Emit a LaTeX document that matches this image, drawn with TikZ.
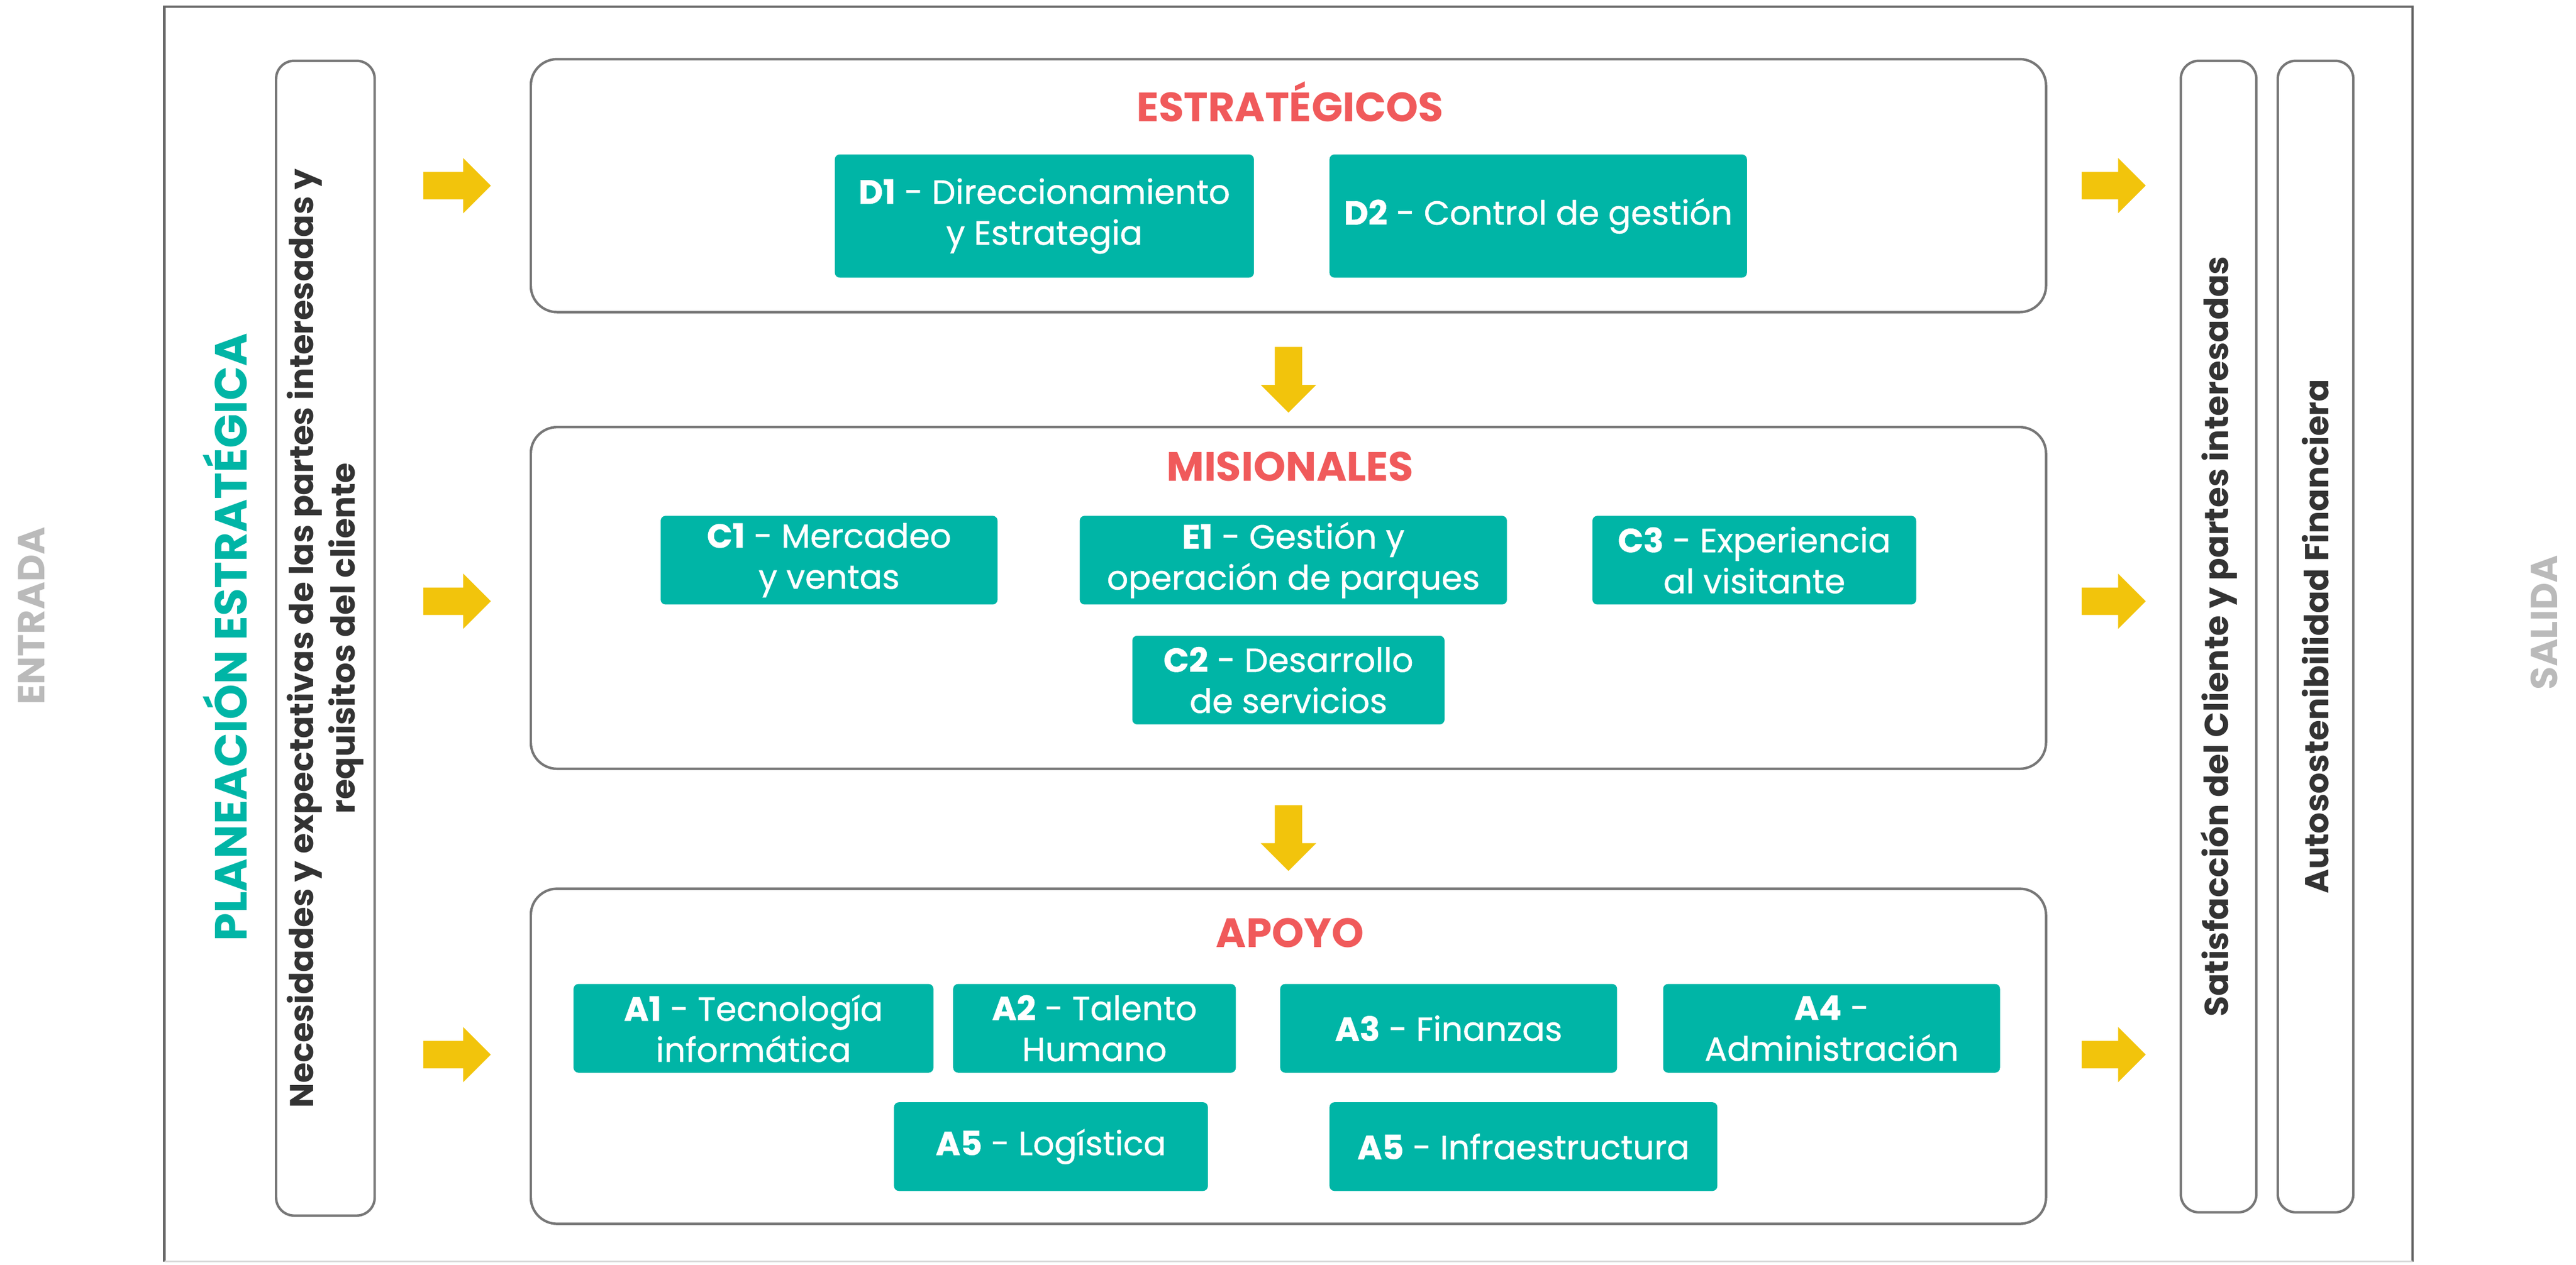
\documentclass[tikz,border=0pt]{standalone}
\usepackage{fontspec}
\setmainfont{Poppins}
\newfontfamily\poppinsmedio[FakeBold=0.7]{Poppins}
\usepackage{tikz}
\usetikzlibrary{shapes.arrows}

\definecolor{verdeazul}{HTML}{00B5A6}
\definecolor{coral}{HTML}{F05A5B}
\definecolor{amarillo}{HTML}{F2C40C}
\definecolor{gristexto}{HTML}{333333}
\definecolor{grisborde}{HTML}{777777}

\tikzset{
	procbox/.style={draw=grisborde, line width=0.3mm, rounded corners=0.32cm},
	sidebox/.style={draw=grisborde, line width=0.3mm, rounded corners=0.22cm, rotate=90, inner sep=0pt, align=center, text=gristexto, font=\fontsize{11.4}{14.5}\selectfont\bfseries},
	tealbox/.style={fill=verdeazul, rounded corners=0.06cm, text=white, align=center, inner sep=0pt, font=\fontsize{11.6}{14.2}\selectfont\poppinsmedio},
	titulo/.style={text=coral, font=\fontsize{14.2}{16}\selectfont\bfseries},
	flechader/.style={single arrow, fill=amarillo, inner xsep=0pt, inner ysep=0.16cm, minimum height=0.82cm, single arrow head extend=0.17cm},
	flechaabajo/.style={single arrow, fill=amarillo, shape border rotate=270, inner xsep=0.16cm, inner ysep=0pt, minimum height=0.8cm, single arrow head extend=0.17cm},
	lado/.style={rotate=90, text=black!27, font=\fontsize{13}{15}\selectfont\bfseries}
}

\begin{document}
\begin{tikzpicture}
			%%%%% START %%%%%
			\useasboundingbox (0, 0) rectangle (31.35, -15.40);
			
			\draw[line width=0.3mm, color=black!60] (2.0, -15.36) -- (2.0, -0.08) -- (29.36, -0.08) -- (29.36, -15.36);
			\draw[line width=0.2mm, color=black!15] (2.0, -15.36) -- (29.36, -15.36);
			
			\node[lado] (entrada) at (0.38, -7.5) {ENTRADA};
			\node[lado] (salida) at (30.96, -7.58) {SALIDA};
			
			\node[rotate=90, text=verdeazul, font=\fontsize{15.6}{18}\selectfont\bfseries] (planeacion) at (2.74, -7.76) {PLANEACIÓN ESTRATÉGICA};
			
			\node[sidebox, minimum width=14.06cm, minimum height=1.2cm] (entradas) at (3.96, -7.77) {Necesidades y expectativas de las partes interesadas y\\requisitos del cliente};
			
			\node[sidebox, font=\fontsize{11.5}{14}\selectfont\bfseries, minimum width=14.02cm, minimum height=0.92cm] (satisfaccion) at (27.00, -7.75) {Satisfacción del Cliente y partes interesadas};
			\node[sidebox, font=\fontsize{11.5}{14}\selectfont\bfseries, minimum width=14.02cm, minimum height=0.92cm] (autosostenibilidad) at (28.18, -7.75) {Autosostenibilidad Financiera};
			
			% estrategicos
			\node[procbox, minimum width=18.44cm, minimum height=3.08cm] (estrategicos) at (15.68, -2.26) {};
			\node[titulo] (tEstrategicos) at (15.70, -1.24) {ESTRATÉGICOS};
			\node[tealbox, minimum width=5.10cm, minimum height=1.50cm] (d1) at (12.71, -2.63) {\textbf{D1} - Direccionamiento\\y Estrategia};
			\node[tealbox, minimum width=5.08cm, minimum height=1.50cm] (d2) at (18.72, -2.63) {\textbf{D2} - Control de gestión};
			
			% misionales
			\node[procbox, minimum width=18.44cm, minimum height=4.16cm] (misionales) at (15.68, -7.28) {};
			\node[titulo] (tMisionales) at (15.70, -5.68) {MISIONALES};
			\node[tealbox, minimum width=4.10cm, minimum height=1.08cm] (c1) at (10.09, -6.82) {\textbf{C1} - Mercadeo\\y ventas};
			\node[tealbox, minimum width=5.20cm, minimum height=1.08cm] (e1) at (15.74, -6.82) {\textbf{E1} - Gestión y\\operación de parques};
			\node[tealbox, minimum width=3.94cm, minimum height=1.08cm] (c3) at (21.35, -6.82) {\textbf{C3} - Experiencia\\al visitante};
			\node[tealbox, minimum width=3.80cm, minimum height=1.08cm] (c2) at (15.68, -8.28) {\textbf{C2} - Desarrollo\\de servicios};
			
			% apoyo
			\node[procbox, minimum width=18.44cm, minimum height=4.08cm] (apoyo) at (15.68, -12.86) {};
			\node[titulo] (tApoyo) at (15.70, -11.36) {APOYO};
			\node[tealbox, minimum width=4.38cm, minimum height=1.08cm] (a1) at (9.17, -12.52) {\textbf{A1} - Tecnología\\informática};
			\node[tealbox, minimum width=3.44cm, minimum height=1.08cm] (a2) at (13.32, -12.52) {\textbf{A2} - Talento\\Humano};
			\node[tealbox, minimum width=4.10cm, minimum height=1.08cm] (a3) at (17.63, -12.52) {\textbf{A3} - Finanzas};
			\node[tealbox, minimum width=4.10cm, minimum height=1.08cm] (a4) at (22.29, -12.52) {\textbf{A4} -\\Administración};
			\node[tealbox, minimum width=3.82cm, minimum height=1.08cm] (a5l) at (12.79, -13.96) {\textbf{A5} - Logística};
			\node[tealbox, minimum width=4.72cm, minimum height=1.08cm] (a5i) at (18.54, -13.96) {\textbf{A5} - Infraestructura};
			
			% flechas
			\node[flechader] (fe1) at (5.48, -2.26) {};
			\node[flechader] (fe2) at (5.48, -7.32) {};
			\node[flechader] (fe3) at (5.48, -12.84) {};
			\node[flechader, minimum height=0.78cm] (fs1) at (25.64, -2.26) {};
			\node[flechader, minimum height=0.78cm] (fs2) at (25.64, -7.32) {};
			\node[flechader, minimum height=0.78cm] (fs3) at (25.64, -12.84) {};
			\node[flechaabajo] (fb1) at (15.68, -4.54) {};
			\node[flechaabajo] (fb2) at (15.68, -10.12) {};
			
			%%%%% END %%%%%
		\end{tikzpicture}
\end{document}
